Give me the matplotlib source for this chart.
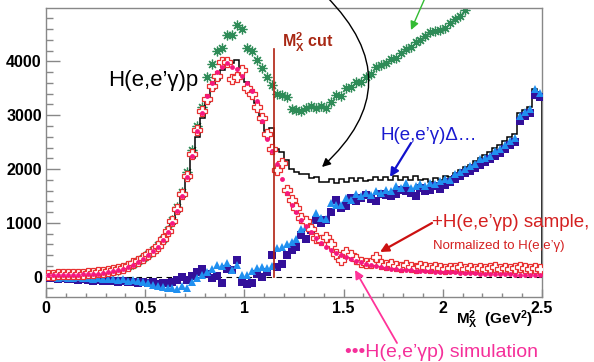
import numpy as np
import matplotlib
matplotlib.use("Agg")
import matplotlib.pyplot as plt
from matplotlib.ticker import MultipleLocator, FuncFormatter

plt.rcParams['font.family'] = ['Liberation Sans', 'DejaVu Sans']
plt.rcParams['mathtext.fontset'] = 'custom'
plt.rcParams['mathtext.rm'] = 'Liberation Sans'
plt.rcParams['mathtext.it'] = 'Liberation Sans:italic'
plt.rcParams['mathtext.bf'] = 'Liberation Sans:bold'

# 100 bins of M_X^2 from 0 to 2.5 GeV^2
n_bins = 100
x_lo, x_hi = 0.0, 2.5

# H(e,e'gamma) data (black histogram)
data_hist = [
    30, 30, 40, 30, 40, 40, 50, 40, 50, 60,
    60, 70, 90, 110, 130, 160, 200, 240, 290, 350,
    410, 480, 570, 680, 810, 980, 1200, 1480, 1820, 2200,
    2600, 2950, 3250, 3480, 3650, 3830, 4000, 3960, 4030, 3820,
    3620, 3450, 3230, 2980, 2700, 2770, 2380, 2310, 2160, 2010,
    1940, 1900, 1910, 1840, 1850, 1760, 1760, 1820, 1750, 1810,
    1760, 1830, 1770, 1840, 1780, 1800, 1850, 1790, 1860, 1800,
    1870, 1790, 1850, 1800, 1870, 1790, 1820, 1760, 1830, 1800,
    1880, 1860, 1930, 1990, 2040, 2070, 2150, 2210, 2260, 2320,
    2400, 2450, 2530, 2590, 2650, 3050, 3100, 3160, 3480, 3400,
]

# green asterisks (no cut sample), off the top above ~2.1
green_pts = [
    30, 35, 30, 40, 40, 45, 50, 50, 55, 60,
    70, 80, 95, 110, 130, 160, 200, 240, 290, 350,
    420, 500, 590, 710, 860, 1050, 1290, 1580, 1950, 2350,
    2800, 3150, 3700, 3950, 4200, 4250, 4480, 4490, 4670, 4600,
    4250, 4200, 4020, 3880, 3700, 3560, 3400, 3380, 3330, 3120,
    3100, 3080, 3130, 3170, 3130, 3170, 3140, 3250, 3370, 3360,
    3500, 3530, 3610, 3620, 3700, 3760, 3900, 3930, 3960, 4040,
    4060, 4150, 4230, 4260, 4350, 4400, 4470, 4540, 4560, 4580,
    4620, 4720, 4790, 4850, 4950, np.nan, np.nan, np.nan, np.nan, np.nan,
    np.nan, np.nan, np.nan, np.nan, np.nan, np.nan, np.nan, np.nan, np.nan, np.nan,
]

# +H(e,e'gamma p) sample, normalized (red open crosses)
sample_pts = [
    40, 40, 50, 45, 50, 55, 50, 60, 65, 70,
    80, 90, 100, 120, 140, 170, 200, 250, 300, 350,
    420, 480, 580, 700, 850, 1030, 1260, 1540, 1880, 2280,
    2720, 3080, 3300, 3550, 3720, 3980, 3990, 3680, 3700, 3830,
    3500, 3400, 3150, 2950, 2650, 2370, 1990, 2120, 1620, 1430,
    1280, 1090, 1030, 880, 720, 680, 730, 600, 420, 320,
    460, 410, 330, 280, 250, 260, 370, 240, 210, 230,
    200, 180, 210, 190, 170, 200, 180, 160, 190, 170,
    150, 170, 160, 180, 150, 160, 140, 170, 150, 160,
    180, 150, 160, 140, 170, 180, 160, 150, 170, 140,
]

# H(e,e'gamma p) simulation (pink dots)
sim_pts = [
    30, 30, 30, 35, 35, 40, 40, 45, 50, 55,
    60, 70, 85, 100, 120, 145, 180, 220, 270, 330,
    400, 470, 560, 680, 830, 1000, 1230, 1500, 1850, 2250,
    2700, 3050, 3350, 3600, 3800, 3900, 3960, 3900, 3860, 3720,
    3600, 3450, 3260, 2900, 2560, 2330, 2100, 1810, 1560, 1340,
    1200, 1060, 940, 830, 720, 630, 560, 500, 440, 400,
    360, 330, 300, 270, 245, 220, 200, 180, 165, 150,
    140, 130, 125, 120, 115, 110, 105, 100, 97, 94,
    90, 85, 80, 75, 70, 66, 62, 58, 55, 52,
    50, 48, 46, 44, 42, 40, 38, 36, 34, 32,
]

# H(e,e'gamma)Delta... subtraction (light blue triangles)
delta_tri = [
    0, -10, -20, 0, -20, -30, -10, -30, -20, -40,
    -30, -40, -50, -40, -60, -50, -70, -60, -80, -100,
    -120, -150, -180, -190, -210, -200, -230, -180, -200, -100,
    -30, 30, 90, 150, 220, 200, 250, 120, 210, 40,
    30, 100, 160, 190, 170, 200, 540, 560, 600, 650,
    700, 880, 930, 1000, 1180, 1100, 1080, 1370, 1340, 1330,
    1460, 1420, 1530, 1500, 1560, 1520, 1590, 1560, 1620, 1600,
    1680, 1650, 1740, 1640, 1680, 1720, 1690, 1740, 1730, 1770,
    1820, 1800, 1900, 1950, 2000, 2050, 2100, 2180, 2200, 2250,
    2330, 2380, 2450, 2520, 2580, 2980, 3060, 3120, 3480, 3420,
]

# second subtraction (navy squares)
delta_sq = [
    -30, -20, -40, -30, -50, -40, -60, -50, -60, -70,
    -60, -70, -80, -70, -90, -80, -100, -90, -110, -100,
    -120, -100, -130, -110, -120, -90, -60, -10, -60, 20,
    80, 150, 60, -30, 10, -120, 150, 120, 310, -90,
    -130, -110, 60, 0, 80, 410, 190, 230, 400, 500,
    560, 780, 700, 860, 1060, 1000, 1060, 1200, 1430, 1280,
    1310, 1460, 1400, 1470, 1510, 1440, 1400, 1540, 1520, 1500,
    1530, 1620, 1600, 1560, 1500, 1650, 1590, 1620, 1680, 1630,
    1700, 1760, 1820, 1880, 1930, 1960, 2020, 2080, 2130, 2180,
    2250, 2300, 2380, 2440, 2500, 2900, 2980, 3050, 3380, 3330,
]

mx2_cut = 1.15
cut_top = 4220

edges = np.linspace(x_lo, x_hi, n_bins + 1)
centers = 0.5 * (edges[:-1] + edges[1:])

W, H = 594, 362
fig = plt.figure(figsize=(W / 100, H / 100), dpi=100)
ax = fig.add_axes([46 / W, 1 - 297 / H, 496 / W, 289 / H])


def fp(x, y):
    # image pixel (top-left origin) -> figure fraction
    return (x / W, 1 - y / H)


ax.plot(centers, green_pts, ls='none', marker=(8, 2, 0), ms=7, mew=0.9,
        color='#2e8b57', zorder=2)
ax.stairs(data_hist, edges, color='black', lw=1.1, zorder=3)
ax.plot(centers, delta_sq, ls='none', marker='s', ms=5.3, color='#33109a',
        mew=0, zorder=4)
ax.plot(centers, delta_tri, ls='none', marker='^', ms=6.3, color='#2090f0',
        mew=0, zorder=5)
ax.plot(centers, sample_pts, ls='none', marker='P', ms=6.5, mfc='white',
        mec='#e83030', mew=0.9, zorder=6)
ax.plot(centers, sim_pts, ls='none', marker='o', ms=3.5, color='#f5187e',
        mew=0, zorder=7)

ax.axhline(0, color='black', lw=0.8, ls=(0, (5, 4)), zorder=1)
ax.plot([mx2_cut, mx2_cut], [0, cut_top], color='#b02010', lw=1.2, zorder=8)

ax.set_xlim(x_lo, x_hi)
ax.set_ylim(-375, 4990)
ax.xaxis.set_major_locator(MultipleLocator(0.5))
ax.xaxis.set_minor_locator(MultipleLocator(0.1))
ax.yaxis.set_major_locator(MultipleLocator(1000))
ax.yaxis.set_minor_locator(MultipleLocator(200))
ax.xaxis.set_major_formatter(FuncFormatter(lambda v, p: '%g' % v))
ax.yaxis.set_major_formatter(FuncFormatter(lambda v, p: '%d' % v))
ax.tick_params(axis='both', which='both', direction='in', color='#888888',
               labelsize=11.5, width=1)
ax.tick_params(axis='y', which='major', length=10, pad=3)
ax.tick_params(axis='y', which='minor', length=5)
ax.tick_params(axis='x', which='major', length=6, pad=3)
ax.tick_params(axis='x', which='minor', length=3)
for lab in ax.get_xticklabels() + ax.get_yticklabels():
    lab.set_fontweight('bold')
for s in ax.spines.values():
    s.set_color('#888888')
    s.set_linewidth(1)

# labels and annotations
fig.text(*fp(533, 324), r'$\mathbf{M_X^2}$  $\mathbf{(GeV^2)}$', ha='right',
         va='baseline', fontsize=11)
fig.text(*fp(108, 86), 'H(e,e’γ)p', fontsize=16, va='baseline')
fig.text(*fp(282, 48), r'$\mathbf{M_X^2}$ cut', fontsize=11.5,
         fontweight='bold', color='#a82814', va='baseline')
fig.text(*fp(380, 140), 'H(e,e’γ)Δ…', fontsize=13.5, color='#1a1ad0',
         va='baseline')
fig.text(*fp(432, 227), '+H(e,e’γp) sample,', fontsize=13.5, color='#d42020',
         va='baseline')
fig.text(*fp(433, 249), 'Normalized to H(e,e’γ)', fontsize=9.5,
         color='#d42020', va='baseline')
fig.text(*fp(345, 357), '•••H(e,e’γp) simulation', fontsize=14,
         color='#f5309a', va='baseline')

arrows = [
    ((425, -2), (411, 30), '#33bb33', 1.0, 'arc3'),
    ((326, -4), (322, 167), 'black', 1.0, 'arc3,rad=-0.52'),
    ((411, 143), (390, 177), '#1111cc', 1.6, 'arc3'),
    ((432, 223), (380, 252), '#cc1111', 1.6, 'arc3'),
    ((397, 343), (355, 270), '#ff3399', 1.3, 'arc3'),
]
for start, end, col, lw, cs in arrows:
    fig.add_artist(matplotlib.patches.FancyArrowPatch(
        fp(*start), fp(*end), transform=fig.transFigure,
        arrowstyle='-|>,head_length=5,head_width=2.5', color=col, lw=lw,
        connectionstyle=cs, shrinkA=0, shrinkB=0))

fig.savefig('out.png', dpi=100)
